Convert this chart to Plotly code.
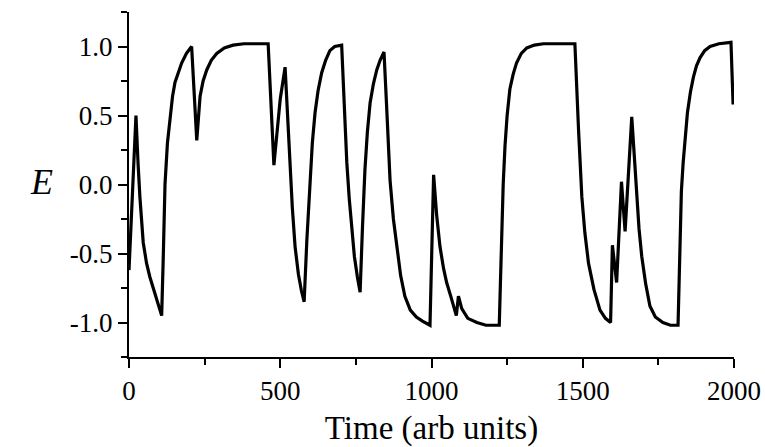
import plotly.graph_objects as go

time = [0, 4, 9, 16, 23, 30, 36, 47, 58, 69, 80, 91, 100, 108, 113, 119, 127, 136, 144, 152, 163, 174, 190, 207,
        224, 229, 235, 245, 257, 272, 290, 315, 344, 380, 460, 479, 490, 500, 516, 524, 532, 540, 549, 560, 570, 579,
        588, 598, 606, 615, 625, 637, 650, 664, 680, 703, 711, 720, 728, 736, 745, 755, 764, 772, 780, 788, 797, 808,
        819, 830, 843, 852, 863, 874, 885, 898, 912, 930, 950, 970, 995, 1007, 1017, 1028, 1040, 1050, 1065, 1082,
        1089, 1100, 1120, 1150, 1180, 1224, 1228, 1232, 1237, 1243, 1250, 1259, 1270, 1281, 1297, 1315, 1340, 1370,
        1474, 1486, 1497, 1507, 1519, 1537, 1557, 1575, 1592, 1598, 1612, 1628, 1640, 1662, 1670, 1678, 1686, 1695,
        1708, 1722, 1740, 1765, 1790, 1815, 1821, 1826, 1832, 1846, 1856, 1866, 1876, 1888, 1903, 1921, 1950, 1990,
        1997]
energy = [-0.62, -0.40, -0.15, 0.22, 0.50, 0.15, -0.09, -0.42, -0.57, -0.67, -0.75, -0.81, -0.88, -0.95, -0.55,
          0.00, 0.30, 0.50, 0.64, 0.74, 0.82, 0.88, 0.95, 1.00,
          0.32, 0.50, 0.64, 0.75, 0.83, 0.90, 0.95, 0.99, 1.01, 1.02, 1.02, 0.14, 0.42, 0.62, 0.85, 0.50, 0.16, -0.17,
          -0.45, -0.65, -0.77, -0.85,
          -0.40, 0.03, 0.30, 0.52, 0.68, 0.81, 0.90, 0.97, 1.00, 1.01, 0.60, 0.16, -0.10, -0.33, -0.52, -0.67, -0.78,
          -0.30, 0.11, 0.38, 0.59, 0.73,
          0.83, 0.90, 0.96, 0.55, 0.03, -0.25, -0.45, -0.66, -0.81, -0.91, -0.96, -0.99, -1.02, 0.07, -0.22, -0.45,
          -0.61, -0.71, -0.82, -0.95,
          -0.81, -0.90, -0.97, -1.00, -1.02, -1.02, -0.70, -0.33, 0.00, 0.28, 0.50, 0.69, 0.80, 0.88, 0.95, 0.99, 1.01,
          1.02,
          1.02, 0.40, -0.09, -0.35, -0.57, -0.76, -0.91, -0.97, -1.00, -0.44, -0.71, 0.02, -0.34, 0.49, 0.20, -0.09,
          -0.32, -0.52,
          -0.72, -0.88, -0.96, -1.00, -1.02, -1.02, -0.33, -0.05, 0.16, 0.52, 0.67, 0.78, 0.86, 0.92, 0.97, 1.00, 1.02,
          1.03,
          0.58]

x_ticks = [0, 500, 1000, 1500, 2000]
x_ticktext = ["0", "500", "1000", "1500", "2000"]
y_ticks = [1.0, 0.5, 0.0, -0.5, -1.0]
y_ticktext = ["1.0", "0.5", "0.0", "-0.5", "-1.0"]

SERIF = "Liberation Serif, Times New Roman, serif"

fig = go.Figure()
fig.add_trace(go.Scatter(x=time, y=energy, mode="lines",
                         line=dict(color="black", width=3.2), showlegend=False))

axis_common = dict(showline=True, linecolor="black", linewidth=2, ticks="outside",
                   tickcolor="black", tickwidth=2, ticklen=9, showgrid=False, zeroline=False,
                   tickfont=dict(family=SERIF, size=27, color="black"))

fig.update_xaxes(range=[0, 2000], tickvals=x_ticks, ticktext=x_ticktext,
                 minor=dict(ticks="outside", dtick=250, tick0=0, ticklen=6, tickwidth=2, tickcolor="black",
                            showgrid=False),
                 title=dict(text="Time (arb units)", font=dict(family=SERIF, size=33, color="black"), standoff=16),
                 **axis_common)
fig.update_yaxes(range=[-1.25, 1.25], tickvals=y_ticks, ticktext=y_ticktext,
                 minor=dict(ticks="outside", dtick=0.25, tick0=0, ticklen=6, tickwidth=2, tickcolor="black",
                            showgrid=False),
                 **axis_common)

fig.add_annotation(text="<i>E</i>", xref="paper", yref="paper", x=-0.145, y=0.507,
                   xanchor="center", yanchor="middle",
                   showarrow=False, font=dict(family=SERIF, size=36, color="black"))

fig.update_layout(width=765, height=447, margin=dict(l=129, r=31, t=12, b=90, autoexpand=False),
                  plot_bgcolor="white", paper_bgcolor="white")

fig.write_html("out.html", config={"displayModeBar": False},
               post_script="document.body.style.margin='0px';")
